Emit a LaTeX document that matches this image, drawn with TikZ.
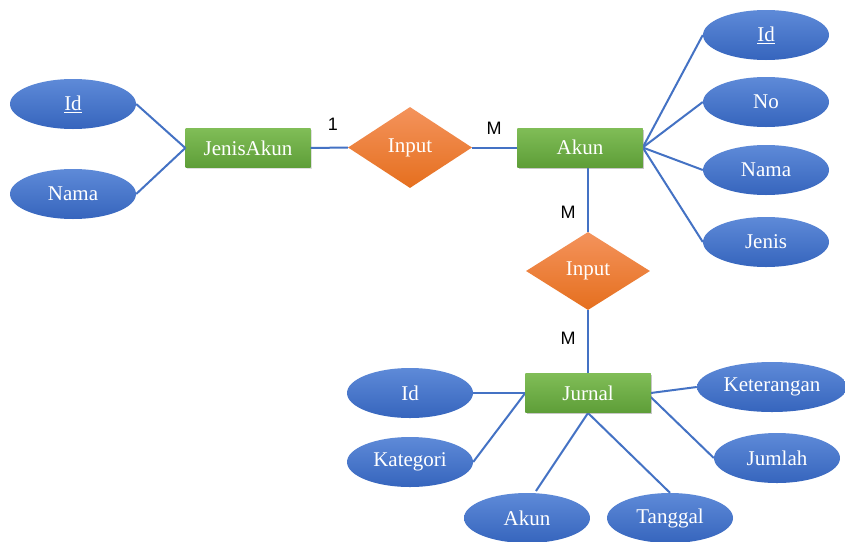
\documentclass[tikz,border=0pt]{standalone}
\usepackage{fontspec}
\setmainfont{Liberation Serif}
\newfontfamily\lblfont{Liberation Sans}
\usetikzlibrary{shapes.geometric,shadows}
\definecolor{lineblue}{HTML}{4472C4}
\definecolor{elltop}{HTML}{5E8AD8}
\definecolor{ellbot}{HTML}{3665BD}
\definecolor{grtop}{HTML}{80BD57}
\definecolor{grbot}{HTML}{5E9E38}
\definecolor{ortop}{HTML}{F4935C}
\definecolor{orbot}{HTML}{E56F1E}
\tikzset{
  attr/.style={ellipse, minimum width=126pt, minimum height=50pt, inner sep=0pt,
    top color=elltop, bottom color=ellbot, draw=none, text=white,
    font=\fontsize{21}{23}\selectfont},
  ent/.style={rectangle, minimum width=125pt, minimum height=39pt, inner sep=0pt,
    top color=grtop, bottom color=grbot, draw=none, text=white,
    drop shadow={opacity=0.25, shadow xshift=1pt, shadow yshift=-1.5pt},
    font=\fontsize{21}{23}\selectfont},
  rel/.style={diamond, minimum width=124pt, minimum height=80pt, inner sep=0pt,
    top color=ortop, bottom color=orbot, draw=none, text=white, aspect=1.55,
    font=\fontsize{21}{23}\selectfont},
  conn/.style={draw=lineblue, line width=2pt},
  card/.style={font=\lblfont\fontsize{18}{20}\selectfont, text=black}
}
\begin{document}
\begin{tikzpicture}[x=1pt,y=-1pt]
\useasboundingbox (0,0) rectangle (845,541);
\clip (0,0) rectangle (845,541);
\fill[white] (0,0) rectangle (845,541);
% entities
\node[ent] (jenisakun) at (248,148) {JenisAkun};
\node[ent] (akun) at (580,147.5) {Akun};
\node[ent] (jurnal) at (588,393) {Jurnal};
% relationships
\node[rel, minimum width=124pt, minimum height=81pt] (input1) at (410,147.5) {Input};
\node[rel, minimum width=124pt, minimum height=78pt] (input2) at (588,271) {Input};
% attributes
\node[attr] (jid) at (73,104) {\underline{Id}};
\node[attr] (jnama) at (73,194) {Nama};
\node[attr] (aid) at (766,35) {\underline{Id}};
\node[attr] (ano) at (766,102) {No};
\node[attr] (anama) at (766,170) {Nama};
\node[attr] (ajenis) at (766,242) {Jenis};
\node[attr] (rid) at (410,393) {Id};
\node[attr] (rkat) at (410,462) {Kategori};
\node[attr] (rakun) at (527,518) {Akun};
\node[attr] (rtgl) at (670,518) {Tanggal};
\node[attr, minimum width=150pt] (rket) at (772,387) {Keterangan};
\node[attr] (rjml) at (777,458) {Jumlah};
% connectors
\coordinate (akunbot) at (588,166);
\coordinate (jurnalbot) at (588,413);
\coordinate (akunend) at (536,491);
\draw[conn] (jid.east) -- (jenisakun.west);
\draw[conn] (jnama.east) -- (jenisakun.west);
\draw[conn] (jenisakun.east) -- (input1.west);
\draw[conn] (input1.east) -- (akun.west);
\draw[conn] (akun.east) -- (aid.west);
\draw[conn] (akun.east) -- (ano.west);
\draw[conn] (akun.east) -- (anama.west);
\draw[conn] (akun.east) -- (ajenis.west);
\draw[conn] (akunbot) -- (input2.north);
\draw[conn] (input2.south) -- (jurnal.north);
\draw[conn] (rid.east) -- (jurnal.west);
\draw[conn] (rkat.east) -- (jurnal.west);
\draw[conn] (jurnalbot) -- (akunend);
\draw[conn] (jurnalbot) -- (rtgl.north);
\draw[conn] (jurnal.east) -- (rket.west);
\draw[conn] ([yshift=-4pt]jurnal.east) -- (rjml.west);
% redraw nodes on top of lines
\node[ent] at (akun) {Akun};
\node[ent] at (jurnal) {Jurnal};
% cardinalities
\node[card] (c1) at (333,124) {1};
\node[card] (c2) at (494,128) {M};
\node[card] (c3) at (568,212) {M};
\node[card] (c4) at (568,338) {M};
\end{tikzpicture}
\end{document}
